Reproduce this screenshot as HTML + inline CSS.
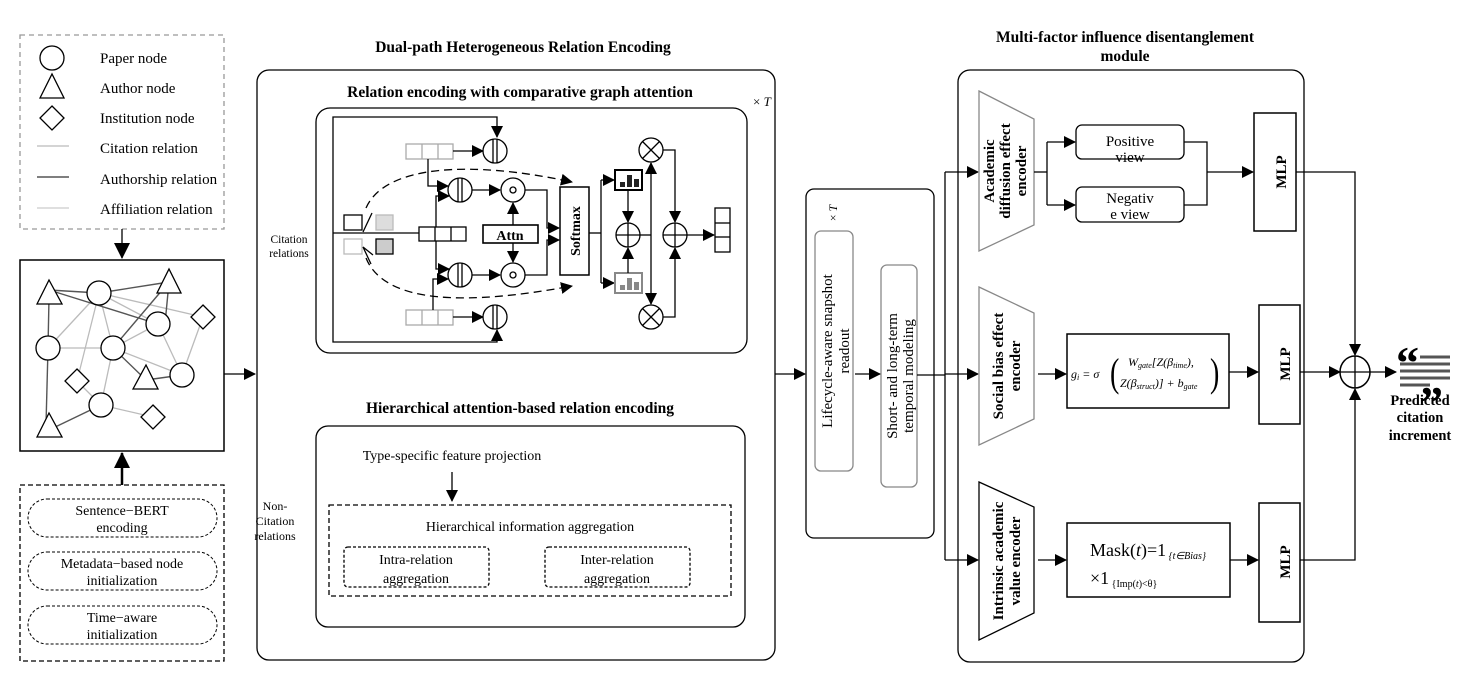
<!DOCTYPE html>
<html><head><meta charset="utf-8"><style>
html,body{margin:0;padding:0;background:#fff;}
svg{display:block;}
text{font-family:"Liberation Serif",serif;fill:#000;}
</style></head><body>
<svg width="1470" height="686" viewBox="0 0 1470 686" xmlns="http://www.w3.org/2000/svg">
<defs>
<marker id="a" markerUnits="userSpaceOnUse" markerWidth="12" markerHeight="12" refX="11" refY="6" orient="auto"><path d="M0,0 L12,6 L0,12 z" fill="#000"/></marker>
<marker id="ab" markerUnits="userSpaceOnUse" markerWidth="16" markerHeight="16" refX="15" refY="8" orient="auto"><path d="M0,0 L16,8 L0,16 z" fill="#000"/></marker>
</defs>
<g fill="none" stroke="#000" stroke-width="1.3">

<rect x="20" y="35" width="204" height="194" stroke="#999" stroke-dasharray="5,4"/>
<circle cx="52" cy="58" r="12"/>
<path d="M40,98 L52,74 L64,98 z"/>
<path d="M52,106 L64,118 L52,130 L40,118 z"/>
<line x1="37" y1="146" x2="69" y2="146" stroke="#bbb"/>
<line x1="37" y1="177" x2="69" y2="177" stroke="#555" stroke-width="1.6"/>
<line x1="37" y1="208" x2="69" y2="208" stroke="#ccc"/>
<line x1="122" y1="229" x2="122" y2="258" marker-end="url(#ab)"/>

<rect x="20" y="260" width="204" height="191" stroke-width="1.5"/>
<g stroke="#bbb">
<line x1="99" y1="293" x2="48" y2="348"/><line x1="99" y1="293" x2="113" y2="348"/>
<line x1="99" y1="293" x2="158" y2="324"/><line x1="99" y1="293" x2="77" y2="381"/>
<line x1="99" y1="293" x2="203" y2="317"/><line x1="48" y1="348" x2="113" y2="348"/>
<line x1="113" y1="348" x2="158" y2="324"/><line x1="113" y1="348" x2="182" y2="375"/>
<line x1="158" y1="324" x2="182" y2="375"/><line x1="203" y1="317" x2="182" y2="375"/>
<line x1="113" y1="348" x2="101" y2="405"/><line x1="77" y1="381" x2="101" y2="405"/>
<line x1="101" y1="405" x2="153" y2="417"/>
</g>
<g stroke="#555" stroke-width="1.4">
<line x1="49" y1="290" x2="99" y2="293"/><line x1="49" y1="290" x2="158" y2="324"/>
<line x1="99" y1="293" x2="169" y2="282"/><line x1="113" y1="348" x2="169" y2="282"/>
<line x1="169" y1="282" x2="165" y2="324"/><line x1="49" y1="298" x2="48" y2="348"/>
<line x1="48" y1="348" x2="46" y2="425"/><line x1="49" y1="430" x2="101" y2="405"/>
<line x1="113" y1="348" x2="146" y2="380"/><line x1="146" y1="380" x2="182" y2="375"/>
</g>
<g fill="#fff">
<path d="M37,304 L49,280 L62,304 z"/><path d="M157,293 L169,269 L181,293 z"/>
<path d="M133,389 L146,365 L158,389 z"/><path d="M37,437 L49,413 L62,437 z"/>
<circle cx="99" cy="293" r="12"/><circle cx="158" cy="324" r="12"/><circle cx="48" cy="348" r="12"/>
<circle cx="113" cy="348" r="12"/><circle cx="182" cy="375" r="12"/><circle cx="101" cy="405" r="12"/>
<path d="M203,305 L215,317 L203,329 L191,317 z"/><path d="M77,369 L89,381 L77,393 L65,381 z"/>
<path d="M153,405 L165,417 L153,429 L141,417 z"/>
</g>
<line x1="224" y1="374" x2="255" y2="374" marker-end="url(#a)"/>
<line x1="122" y1="485" x2="122" y2="453" stroke-width="2.5" marker-end="url(#ab)"/>

<rect x="20" y="485" width="204" height="176" stroke-dasharray="5,3"/>
<g stroke-dasharray="3,2" stroke-width="1">
<rect x="28" y="499" width="189" height="38" rx="19"/>
<rect x="28" y="552" width="189" height="38" rx="19"/>
<rect x="28" y="606" width="189" height="38" rx="19"/>
</g>

<rect x="257" y="70" width="518" height="590" rx="12"/>
<rect x="316" y="108" width="431" height="245" rx="14"/>

<polyline points="333,233 333,117 497,117 497,137" marker-end="url(#a)"/>
<polyline points="333,233 333,342 497,342 497,330" marker-end="url(#a)"/>
<line x1="333" y1="233" x2="419" y2="233"/>
<g stroke="#aaa"><rect x="406" y="144" width="47" height="15"/><line x1="422" y1="144" x2="422" y2="159"/><line x1="438" y1="144" x2="438" y2="159"/>
<rect x="406" y="310" width="47" height="15"/><line x1="422" y1="310" x2="422" y2="325"/><line x1="438" y1="310" x2="438" y2="325"/></g>
<rect x="419" y="227" width="47" height="14"/><line x1="435" y1="227" x2="435" y2="241"/><line x1="451" y1="227" x2="451" y2="241"/>
<line x1="453" y1="151" x2="483" y2="151" marker-end="url(#a)"/>
<line x1="453" y1="317" x2="483" y2="317" marker-end="url(#a)"/>
<polyline points="428,159 428,186 448,186" marker-end="url(#a)"/>
<polyline points="436,227 436,196 449,196" marker-end="url(#a)"/>
<polyline points="433,310 433,279 448,279" marker-end="url(#a)"/>
<polyline points="436,241 436,269 449,269" marker-end="url(#a)"/>
<g fill="#fff">
<circle cx="495" cy="151" r="12"/><circle cx="495" cy="317" r="12"/>
<circle cx="460" cy="190" r="12"/><circle cx="460" cy="275" r="12"/>
<circle cx="513" cy="190" r="12"/><circle cx="513" cy="275" r="12"/>
</g>
<g><line x1="493" y1="139" x2="493" y2="163"/><line x1="497" y1="139" x2="497" y2="163"/>
<line x1="493" y1="305" x2="493" y2="329"/><line x1="497" y1="305" x2="497" y2="329"/>
<line x1="458" y1="178" x2="458" y2="202"/><line x1="462" y1="178" x2="462" y2="202"/>
<line x1="458" y1="263" x2="458" y2="287"/><line x1="462" y1="263" x2="462" y2="287"/>
<circle cx="513" cy="190" r="3"/><circle cx="513" cy="275" r="3"/></g>
<line x1="472" y1="190" x2="500" y2="190" marker-end="url(#a)"/>
<line x1="472" y1="275" x2="500" y2="275" marker-end="url(#a)"/>
<rect x="483" y="225" width="55" height="18" stroke-width="1.6"/>
<line x1="513" y1="225" x2="513" y2="203" marker-end="url(#a)"/>
<line x1="513" y1="243" x2="513" y2="262" marker-end="url(#a)"/>
<polyline points="525,190 547,190 547,228 559,228" marker-end="url(#a)"/>
<polyline points="525,275 547,275 547,240 559,240" marker-end="url(#a)"/>
<rect x="560" y="187" width="29" height="88" stroke-width="1.5"/>
<path d="M366,208 C385,165 470,160 572,182" stroke-dasharray="8,5" marker-end="url(#a)"/>
<path d="M366,258 C385,305 470,305 572,286" stroke-dasharray="8,5" marker-end="url(#a)"/>
<rect x="344" y="215" width="18" height="15"/>
<rect x="376" y="215" width="17" height="15" fill="#ddd" stroke="#bbb"/>
<rect x="344" y="239" width="18" height="15" stroke="#bbb"/>
<rect x="376" y="239" width="17" height="15" fill="#ccc"/>
<line x1="363" y1="232" x2="372" y2="213"/>
<polyline points="373,255 363,247 371,264" />
<polyline points="589,233 601,233"/>
<line x1="601" y1="180" x2="601" y2="283"/>
<line x1="601" y1="180" x2="614" y2="180" marker-end="url(#a)"/>
<line x1="601" y1="283" x2="614" y2="283" marker-end="url(#a)"/>
<rect x="615" y="170" width="27" height="20" stroke-width="2"/>
<rect x="615" y="273" width="27" height="20" stroke="#888" stroke-width="2"/>
<g stroke="none" fill="#222"><rect x="620" y="182" width="5" height="5"/><rect x="627" y="175" width="5" height="12"/><rect x="634" y="179" width="5" height="8"/></g>
<g stroke="none" fill="#888"><rect x="620" y="285" width="5" height="5"/><rect x="627" y="278" width="5" height="12"/><rect x="634" y="282" width="5" height="8"/></g>
<line x1="628" y1="190" x2="628" y2="222" marker-end="url(#a)"/>
<line x1="628" y1="273" x2="628" y2="248" marker-end="url(#a)"/>
<line x1="640" y1="235" x2="651" y2="235"/>
<line x1="651" y1="235" x2="651" y2="163" marker-end="url(#a)"/>
<line x1="651" y1="235" x2="651" y2="304" marker-end="url(#a)"/>
<polyline points="662,150 675,150 675,222" marker-end="url(#a)"/>
<polyline points="662,317 675,317 675,248" marker-end="url(#a)"/>
<g fill="#fff"><circle cx="628" cy="235" r="12"/><circle cx="675" cy="235" r="12"/>
<circle cx="651" cy="150" r="12"/><circle cx="651" cy="317" r="12"/></g>
<path d="M616,235 H640 M628,223 V247 M663,235 H687 M675,223 V247"/>
<path d="M642.5,141.5 L659.5,158.5 M659.5,141.5 L642.5,158.5 M642.5,308.5 L659.5,325.5 M659.5,308.5 L642.5,325.5"/>
<line x1="687" y1="235" x2="714" y2="235" marker-end="url(#a)"/>
<rect x="715" y="208" width="15" height="44"/><line x1="715" y1="223" x2="730" y2="223"/><line x1="715" y1="237" x2="730" y2="237"/>

<rect x="316" y="426" width="429" height="201" rx="12"/>
<line x1="452" y1="472" x2="452" y2="501" marker-end="url(#a)"/>
<rect x="329" y="505" width="402" height="91" stroke-dasharray="5,3"/>
<rect x="344" y="547" width="145" height="40" rx="4" stroke-dasharray="3,2"/>
<rect x="545" y="547" width="145" height="40" rx="4" stroke-dasharray="3,2"/>

<line x1="775" y1="374" x2="805" y2="374" marker-end="url(#a)"/>
<rect x="806" y="189" width="128" height="349" rx="8"/>
<rect x="815" y="231" width="38" height="240" rx="6" stroke="#888"/>
<rect x="881" y="265" width="36" height="222" rx="6" stroke="#888"/>
<line x1="855" y1="374" x2="880" y2="374" marker-end="url(#a)"/>
<line x1="917" y1="375" x2="945" y2="375"/>
<line x1="945" y1="172" x2="945" y2="560"/>
<line x1="945" y1="172" x2="978" y2="172" marker-end="url(#a)"/>
<line x1="945" y1="374" x2="978" y2="374" marker-end="url(#a)"/>
<line x1="945" y1="560" x2="978" y2="560" marker-end="url(#a)"/>

<rect x="958" y="70" width="346" height="592" rx="12"/>
<path d="M979,91 L1034,119 L1034,225 L979,251 z" stroke="#888"/>
<path d="M979,287 L1034,313 L1034,419 L979,445 z" stroke="#888"/>
<path d="M979,482 L1034,507 L1034,613 L979,640 z"/>
<polyline points="1034,172 1047,172"/>
<line x1="1047" y1="142" x2="1047" y2="205"/>
<line x1="1047" y1="142" x2="1075" y2="142" marker-end="url(#a)"/>
<line x1="1047" y1="205" x2="1075" y2="205" marker-end="url(#a)"/>
<rect x="1076" y="125" width="108" height="34" rx="6"/>
<rect x="1076" y="187" width="108" height="35" rx="6"/>
<polyline points="1184,142 1207,142 1207,205 1184,205"/>
<line x1="1207" y1="172" x2="1253" y2="172" marker-end="url(#a)"/>
<rect x="1254" y="113" width="42" height="118" stroke-width="1.5"/>
<line x1="1038" y1="374" x2="1066" y2="374" marker-end="url(#a)"/>
<rect x="1067" y="334" width="162" height="74" stroke-width="1.5"/>
<line x1="1229" y1="372" x2="1258" y2="372" marker-end="url(#a)"/>
<rect x="1259" y="305" width="41" height="119" stroke-width="1.5"/>
<line x1="1038" y1="560" x2="1066" y2="560" marker-end="url(#a)"/>
<rect x="1067" y="523" width="163" height="74" stroke-width="1.5"/>
<line x1="1230" y1="560" x2="1258" y2="560" marker-end="url(#a)"/>
<rect x="1259" y="503" width="41" height="119" stroke-width="1.5"/>
<polyline points="1296,172 1355,172 1355,355" marker-end="url(#a)"/>
<polyline points="1300,560 1355,560 1355,389" marker-end="url(#a)"/>
<line x1="1300" y1="372" x2="1340" y2="372" marker-end="url(#a)"/>
<ellipse cx="1355" cy="372" rx="15" ry="16" fill="#fff" stroke-width="1.5"/>
<path d="M1340,372 H1370 M1355,356 V388"/>
<line x1="1370" y1="372" x2="1396" y2="372" marker-end="url(#a)"/>
<g stroke="#555" stroke-width="3"><line x1="1420" y1="357" x2="1450" y2="357"/><line x1="1400" y1="364" x2="1450" y2="364"/><line x1="1400" y1="371" x2="1450" y2="371"/><line x1="1400" y1="378" x2="1450" y2="378"/><line x1="1400" y1="385" x2="1430" y2="385"/></g>
</g>

<g font-size="15">
<text x="100" y="63">Paper node</text><text x="100" y="93">Author node</text>
<text x="100" y="123">Institution node</text><text x="100" y="153">Citation relation</text>
<text x="100" y="184">Authorship relation</text><text x="100" y="214">Affiliation relation</text>
</g>
<g font-size="14" text-anchor="middle" font-family="'Liberation Serif','Noto Serif CJK SC',serif">
<text x="122" y="515">Sentence−BERT</text><text x="122" y="532">encoding</text>
<text x="122" y="568">Metadata−based node</text><text x="122" y="585">initialization</text>
<text x="122" y="622">Time−aware</text><text x="122" y="639">initialization</text>
</g>
<g font-weight="bold" font-size="15.5" text-anchor="middle">
<text x="523" y="52">Dual-path Heterogeneous Relation Encoding</text>
<text x="520" y="97">Relation encoding with comparative graph attention</text>
<text x="520" y="413">Hierarchical attention-based relation encoding</text>
<text x="1125" y="42">Multi-factor influence disentanglement</text>
<text x="1125" y="61">module</text>
</g>
<text x="753" y="106" font-size="13" font-family="'Liberation Sans',sans-serif">× <tspan font-style="italic">T</tspan></text>
<text x="289" y="243" font-size="11.5" text-anchor="middle">Citation</text>
<text x="289" y="257" font-size="11.5" text-anchor="middle">relations</text>
<text x="510" y="240" font-size="14" font-weight="bold" text-anchor="middle">Attn</text>
<text transform="translate(580,231) rotate(-90)" font-size="14" font-weight="bold" text-anchor="middle">Softmax</text>
<g font-size="12" text-anchor="middle"><text x="275" y="510">Non-</text><text x="275" y="525">Citation</text><text x="275" y="540">relations</text></g>
<g font-size="14" text-anchor="middle">
<text x="452" y="460">Type-specific feature projection</text>
<text x="530" y="531">Hierarchical information aggregation</text>
<text x="416" y="564">Intra-relation</text><text x="416" y="583">aggregation</text>
<text x="617" y="564">Inter-relation</text><text x="617" y="583">aggregation</text>
</g>
<text transform="translate(837,213) rotate(-90)" font-size="12" font-family="'Liberation Sans',sans-serif" text-anchor="middle">× <tspan font-style="italic">T</tspan></text>
<g font-size="15" text-anchor="middle">
<text transform="translate(832,351) rotate(-90)">Lifecycle-aware snapshot</text>
<text transform="translate(849,351) rotate(-90)">readout</text>
<text transform="translate(897,376) rotate(-90)">Short- and long-term</text>
<text transform="translate(913,376) rotate(-90)">temporal modeling</text>
<text x="1130" y="146">Positive</text><text x="1130" y="162">view</text>
<text x="1130" y="203">Negativ</text><text x="1130" y="219">e view</text>
</g>
<g font-size="15" font-weight="bold" text-anchor="middle">
<text transform="translate(1006,171) rotate(-90)"><tspan x="0" y="-12">Academic</tspan><tspan x="0" y="4">diffusion effect</tspan><tspan x="0" y="20">encoder</tspan></text>
<text transform="translate(1006,366) rotate(-90)"><tspan x="0" y="-3">Social bias effect</tspan><tspan x="0" y="14">encoder</tspan></text>
<text transform="translate(1006,561) rotate(-90)"><tspan x="0" y="-3">Intrinsic academic</tspan><tspan x="0" y="14">value encoder</tspan></text>
<text transform="translate(1281,172) rotate(-90)" y="5">MLP</text>
<text transform="translate(1285,364) rotate(-90)" y="5">MLP</text>
<text transform="translate(1285,562) rotate(-90)" y="5">MLP</text>
</g>
<g font-size="12" font-style="italic">
<text x="1071" y="378" fill="#444">g<tspan font-size="8" dy="2">i</tspan><tspan dy="-2"> = σ</tspan></text>
<text x="1110" y="386" font-size="40" font-style="normal" fill="#444" transform="translate(1110,386) scale(0.7,1) translate(-1110,-386)">(</text>
<text x="1210" y="386" font-size="40" font-style="normal" fill="#444" transform="translate(1210,386) scale(0.7,1) translate(-1210,-386)">)</text>
<text x="1128" y="366" fill="#444">W<tspan font-size="8" dy="2">gate</tspan><tspan dy="-2">[Z(β</tspan><tspan font-size="8" dy="2">time</tspan><tspan dy="-2">),</tspan></text>
<text x="1120" y="387" fill="#444">Z(β<tspan font-size="8" dy="2">struct</tspan><tspan dy="-2">)] + b</tspan><tspan font-size="8" dy="2">gate</tspan></text>
</g>
<text x="1090" y="556" font-size="18">Mask(<tspan font-style="italic">t</tspan>)=1<tspan font-size="10" font-style="italic" dy="3"> {t∈Bias}</tspan></text>
<text x="1090" y="584" font-size="18">×1<tspan font-size="10" dy="3"> {Imp(<tspan font-style="italic">t</tspan>)&lt;θ}</tspan></text>
<text x="1396" y="378" font-size="46" font-weight="bold" fill="#555">“</text>
<text x="1420" y="418" font-size="46" font-weight="bold" fill="#555">”</text>
<g font-size="14.5" font-weight="bold" text-anchor="middle">
<text x="1420" y="405">Predicted</text><text x="1420" y="422">citation</text><text x="1420" y="440">increment</text>
</g>
</svg>
</body></html>
